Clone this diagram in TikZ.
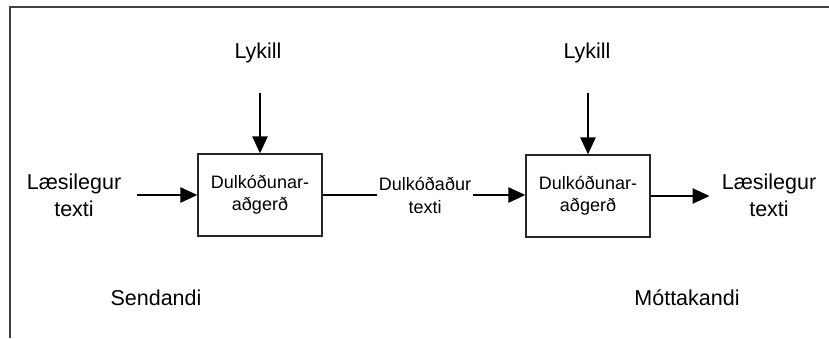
\documentclass[tikz,border=0pt]{standalone}
\usepackage{fontspec}
\setmainfont{Liberation Sans}
\usetikzlibrary{arrows.meta}

\tikzset{
  label text/.style={inner sep=2pt, font=\fontsize{21.5pt}{27pt}\selectfont, align=center},
  small text/.style={inner sep=2pt, font=\fontsize{18pt}{23pt}\selectfont, align=center},
  cipherbox/.style={draw=black!85, line width=1.2pt, minimum width=124pt, minimum height=82pt,
                    inner sep=0pt, font=\fontsize{18pt}{22pt}\selectfont, align=center},
  flow/.style={line width=2.5pt, -{Triangle[length=17pt,width=15pt]}},
  plainline/.style={line width=2.5pt},
  frameline/.style={line width=2pt, draw=black!75}
}

\begin{document}
\begin{tikzpicture}[x=1pt, y=-1pt]
  \useasboundingbox (0,0) rectangle (829,338);

  % outer frame: top and left edges only
  \draw[frameline] (10,338) -- (10,7) -- (829,7);

  % encryption side
  \node[label text, anchor=base] (key1) at (258,58) {Lykill};
  \node[cipherbox] (box1) at (260,195) {Dulkóðunar-\\aðgerð};
  \node[label text] (plain1) at (74,195) {Læsilegur\\texti};

  % ciphertext in the middle
  \node[small text] (cipher) at (425,195) {Dulkóðaður\\texti};

  % decryption side
  \node[label text, anchor=base] (key2) at (587,58) {Lykill};
  \node[cipherbox] (box2) at (588,196) {Dulkóðunar-\\aðgerð};
  \node[label text] (plain2) at (769,195) {Læsilegur\\texti};

  % roles
  \node[label text, anchor=base] (sender) at (156,305) {Sendandi};
  \node[label text, anchor=base] (receiver) at (687,305) {Móttakandi};

  % connectors
  \draw[flow, shorten <=14pt] (plain1.east) -- (plain1.east -| box1.west);
  \draw[flow, shorten <=28pt] (key1.south -| box1.north) -- (box1.north);
  \draw[plainline] (box1.east) -- (box1.east -| cipher.west);
  \draw[flow] (cipher.east) -- (cipher.east -| box2.west);
  \draw[flow, shorten <=28pt] (key2.south -| box2.north) -- (box2.north);
  \draw[flow, shorten >=10pt] (box2.east) -- (box2.east -| plain2.west);
\end{tikzpicture}
\end{document}
